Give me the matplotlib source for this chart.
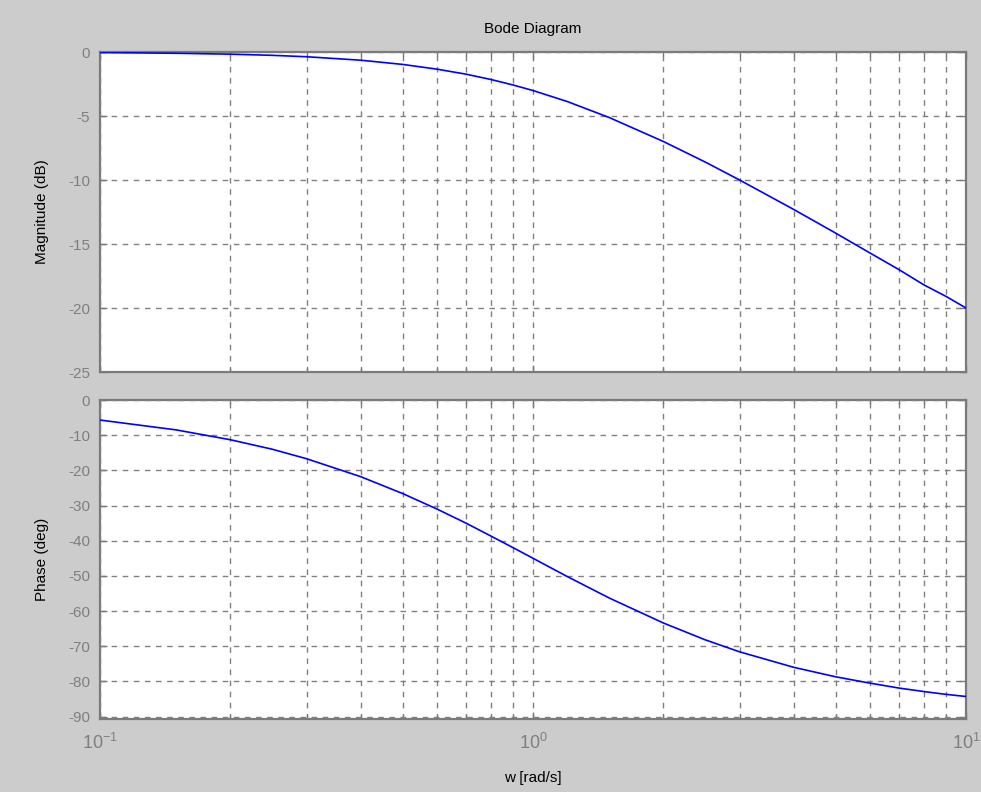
import matplotlib
matplotlib.use("Agg")
import matplotlib.pyplot as plt
from matplotlib.ticker import LogLocator, NullFormatter, FixedLocator

plt.rcParams['font.family'] = ['Liberation Sans', 'DejaVu Sans']
plt.rcParams['mathtext.fontset'] = 'custom'
plt.rcParams['mathtext.rm'] = 'Liberation Sans'
plt.rcParams['mathtext.it'] = 'Liberation Sans'
plt.rcParams['axes.unicode_minus'] = False

# Data
freq = [0.1, 0.15, 0.2, 0.25, 0.3, 0.4, 0.5, 0.6, 0.7, 0.8, 0.9, 1.0,
        1.2, 1.5, 2.0, 2.5, 3.0, 4.0, 5.0, 6.0, 7.0, 8.0, 9.0, 10.0]
magnitude_db = [-0.04, -0.10, -0.17, -0.26, -0.37, -0.64, -0.97, -1.34, -1.73,
                -2.15, -2.58, -3.01, -3.87, -5.12, -6.99, -8.60, -10.0, -12.3,
                -14.15, -15.7, -17.0, -18.2, -19.1, -20.0]
phase_deg = [-5.7, -8.5, -11.3, -14.0, -16.7, -21.8, -26.6, -31.0, -35.0,
             -38.7, -42.0, -45.0, -50.2, -56.3, -63.4, -68.2, -71.6, -76.0,
             -78.7, -80.5, -81.9, -82.9, -83.7, -84.3]
title = "Bode Diagram"
mag_label = "Magnitude (dB)"
phase_label = "Phase (deg)"
x_label = "w [rad/s]"
mag_ticks = [-25, -20, -15, -10, -5, 0]
phase_ticks = [-90, -80, -70, -60, -50, -40, -30, -20, -10, 0]
x_ticks = [0.1, 1, 10]
x_tick_labels = [r"$10^{-1}$", r"$10^{0}$", r"$10^{1}$"]

W, H = 981, 792
bg = '#cccccc'
axc = '#7a7a7a'
txtc = '#7f7f7f'
fig = plt.figure(figsize=(W / 100, H / 100), dpi=100, facecolor=bg)

def ax_rect(x0, y0, x1, y1):
    return [x0 / W, 1 - y1 / H, (x1 - x0) / W, (y1 - y0) / H]

ax1 = fig.add_axes(ax_rect(100, 52, 966, 372))
ax2 = fig.add_axes(ax_rect(100, 400, 966, 719))

for ax in (ax1, ax2):
    ax.set_xscale('log')
    ax.set_xlim(0.1, 10)
    ax.set_facecolor('white')
    for s in ax.spines.values():
        s.set_color(axc)
        s.set_linewidth(1.6)
    ax.xaxis.set_major_locator(FixedLocator(x_ticks))
    ax.xaxis.set_minor_locator(LogLocator(base=10, subs=range(2, 10)))
    ax.xaxis.set_minor_formatter(NullFormatter())
    ax.tick_params(which='both', direction='in', top=True, right=True,
                   colors=axc, labelcolor=txtc, labelsize=11, length=5,
                   width=1.0, pad=7)
    ax.tick_params(which='minor', length=3)
    ax.grid(True, which='major', axis='both', color='#808080',
            linestyle=(0, (4, 4)), linewidth=1.0)
    ax.grid(True, which='minor', axis='x', color='#808080',
            linestyle=(0, (4, 4)), linewidth=1.0)
    ax.set_axisbelow(False)

ax1.plot(freq, magnitude_db, color='#0000ff', linewidth=1.2, zorder=5)
ax1.set_ylim(-25, 0)
ax1.set_yticks(mag_ticks)
ax1.set_xticklabels([])
ax1.set_ylabel(mag_label, fontsize=11, color='black', labelpad=14)
ax1.set_title(title, fontsize=11, color='black', pad=14)

ax2.plot(freq, phase_deg, color='#0000ff', linewidth=1.2, zorder=5)
ax2.set_ylim(-90.7, 0)
ax2.set_yticks(phase_ticks)
ax2.set_xticklabels(x_tick_labels)
ax2.tick_params(axis='x', which='major', pad=10, labelsize=13)
ax2.set_ylabel(phase_label, fontsize=11, color='black', labelpad=14)
ax2.set_xlabel(x_label, fontsize=11, color='black', labelpad=13)

fig.savefig('out.png', dpi=100, facecolor=bg)
